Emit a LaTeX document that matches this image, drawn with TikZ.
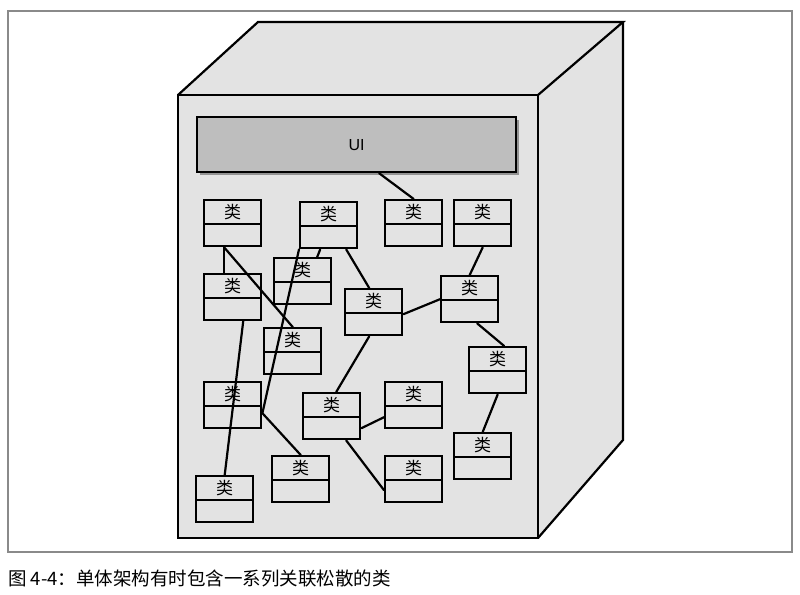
\documentclass[tikz,border=0pt]{standalone}
\usepackage{fontspec}
\setmainfont{Liberation Sans}
\newfontfamily\cjk{Noto Sans CJK SC}
\usetikzlibrary{shadows,calc}
\definecolor{face}{HTML}{E3E3E3}
\definecolor{uigray}{HTML}{BEBEBE}
\definecolor{framegray}{HTML}{8A8A8A}
\begin{document}
\begin{tikzpicture}[x=1pt,y=-1pt,
  edge/.style={draw=black, line width=2.2pt, line join=miter},
  cls/.style={draw, line width=2.4pt, fill=face, anchor=north west,
    minimum width=57pt, minimum height=46pt, inner sep=0pt,
    text height=18.5pt, text depth=27.5pt,
    font=\cjk\fontsize{17}{17}\selectfont,
    path picture={\draw[line width=2.4pt]
      ([yshift=-23.5pt]path picture bounding box.north west) --
      ([yshift=-23.5pt]path picture bounding box.north east);}},
  link/.style={line width=2.2pt, line cap=round},
  ]
\useasboundingbox (0,0) rectangle (800,594);
% outer frame
\draw[framegray, line width=1.3pt] (8,11) rectangle (792,552);
% cube
\fill[face] (178,95) -- (258,22) -- (623,22) -- (623,440) -- (538,538) -- (178,538) -- cycle;
\draw[edge] (178,95) -- (258,22) -- (623,22) -- (538,95);
\draw[edge] (623,22) -- (623,440) -- (538,538);
\draw[edge] (178,95) rectangle (538,538);
% UI
\node[draw, line width=2.2pt, fill=uigray, anchor=north west, minimum width=319pt, minimum height=55pt, inner sep=0pt,
  drop shadow={shadow xshift=3pt, shadow yshift=-3pt, fill=black, opacity=0.35},
  font=\fontsize{16}{16}\selectfont] (ui) at (196,116) {UI};
% classes
\node[cls] (a) at (203,199) {类};
\node[cls] (b) at (299,201) {类};
\node[cls] (c) at (384,199) {类};
\node[cls] (d) at (453,199) {类};
\node[cls] (e) at (273,257) {类};
\node[cls] (f) at (203,273) {类};
\node[cls] (g) at (344,288) {类};
\node[cls] (h) at (440,275) {类};
\node[cls] (i) at (263,327) {类};
\node[cls] (j) at (468,346) {类};
\node[cls] (k) at (203,381) {类};
\node[cls] (l) at (302,392) {类};
\node[cls] (m) at (384,381) {类};
\node[cls] (o) at (453,432) {类};
\node[cls] (p) at (271,455) {类};
\node[cls] (q) at (384,455) {类};
\node[cls] (r) at (195,475) {类};
% connectors
\draw[link] ([xshift=22.5pt]ui.south) -- (c.north);
\draw[link] ([xshift=-8.5pt]a.south) -- ([xshift=-8.5pt]f.north);
\draw[link] ([xshift=-8.5pt]a.south) -- (i.north);
\draw[link] (b.south west) -- ([yshift=-8pt]k.east);
\draw[link] ([xshift=-8.5pt]b.south) -- ([xshift=14.5pt]e.north);
\draw[link] ([xshift=17.5pt]b.south) -- ([xshift=-4.5pt]g.north);
\draw[link] ([xshift=10.5pt]f.south) -- (r.north);
\draw[link] ([yshift=-2pt]g.east) -- (h.west);
\draw[link] (d.south) -- (h.north);
\draw[link] ([xshift=7.5pt]h.south) -- ([xshift=6.5pt]j.north);
\draw[link] ([xshift=-4.5pt]g.south) -- ([xshift=4.5pt]l.north);
\draw[link] ([yshift=-12pt]l.east) -- ([yshift=-12pt]m.west);
\draw[link] ([xshift=14.5pt]l.south) -- ([yshift=-11pt]q.west);
\draw[link] ([yshift=-8pt]k.east) -- (p.north);
\draw[link] (j.south) -- (o.north);
% caption
\node[anchor=west, inner sep=0pt, font=\cjk\fontsize{18.5}{18.5}\selectfont] (cap) at (8,578) {图 4-4：单体架构有时包含一系列关联松散的类};
\end{tikzpicture}
\end{document}
